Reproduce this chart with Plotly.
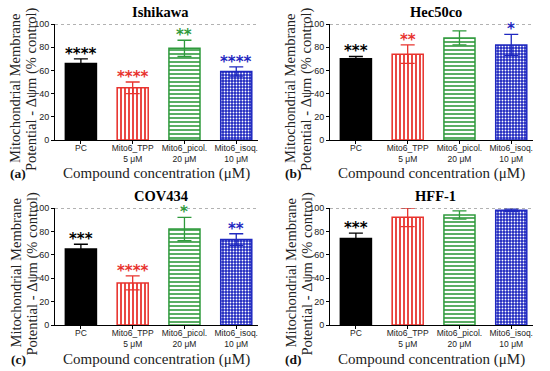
import plotly.graph_objects as go

W, H = 550, 371

categories = ["PC", "Mito6_TPP<br>5 μM", "Mito6_picol.<br>20 μM", "Mito6_isoq.<br>10 μM"]
panels = ["Ishikawa", "Hec50co", "COV434", "HFF-1"]
panel_labels = ["(a)", "(b)", "(c)", "(d)"]

ishikawa_mean = [66, 45, 79, 59]
ishikawa_err = [4, 5, 7, 4]
ishikawa_stars = ["****", "****", "**", "****"]

hec50co_mean = [70, 74, 88, 82]
hec50co_err = [2, 8, 6, 9]
hec50co_stars = ["***", "**", "", "*"]

cov434_mean = [65, 36, 82, 73]
cov434_err = [4, 6, 10, 5]
cov434_stars = ["***", "****", "*", "**"]

hff1_mean = [74, 92, 94, 98]
hff1_err = [4.5, 8, 3.5, 1]
hff1_stars = ["***", "", "", ""]

y_ticks = [0, 20, 40, 60, 80, 100]
y_title_lines = ["Mitochondrial Membrane", "Potential - Δψm (% control)"]

data = [
    (ishikawa_mean, ishikawa_err, ishikawa_stars),
    (hec50co_mean, hec50co_err, hec50co_stars),
    (cov434_mean, cov434_err, cov434_stars),
    (hff1_mean, hff1_err, hff1_stars),
]

colors = ["#000000", "#e8342f", "#2f9a3c", "#1f28c0"]
shapes_p = ["", "|", "-", "."]
fg = ["#000000", "#e8342f", "#2f9a3c", "#ffffff"]
bg = ["#000000", "#ffffff", "#ffffff", "#1f28c0"]
solid = [0.0, 0.45, 0.4, 0.3]
psize = [6, 4, 4, 3]

# pixel layout of plot areas: (left, right, top(100), bottom(0))
boxes = [(55, 258, 24, 140), (330, 533, 24, 140), (55, 258, 208, 325), (330, 533, 208, 325)]

fig = go.Figure(layout=dict(template="none"))
serif = "Liberation Serif"
sans = "Liberation Sans"
annotations = []
shapes = []


def pa(xp, yp, text, font, angle=0):
    return dict(x=xp / W, y=1 - yp / H, xref="paper", yref="paper", text=text, textangle=angle,
                showarrow=False, xanchor="center", yanchor="middle", font=font)


for p, (mean, err, stars) in enumerate(data):
    ax = "" if p == 0 else str(p + 1)
    xa, ya = "x" + ax, "y" + ax
    l, r, t, b = boxes[p]
    for i in range(4):
        fig.add_trace(go.Bar(
            x=[i], y=[mean[i]], width=0.6,
            xaxis=xa, yaxis=ya, showlegend=False,
            marker=dict(color=colors[i] if i == 0 else bg[i],
                        line=dict(color=colors[i], width=1.5),
                        pattern=dict(shape=shapes_p[i], fgcolor=fg[i], bgcolor=bg[i],
                                     solidity=solid[i], size=psize[i], fillmode="replace")),
            error_y=dict(type="data", array=[err[i]], color=colors[i], thickness=1.3, width=7),
        ))
        if stars[i]:
            annotations.append(dict(x=i, y=mean[i] + err[i], xref=xa, yref=ya, text="<b>" + stars[i] + "</b>",
                                    showarrow=False, xanchor="center", yanchor="bottom", yshift=-5,
                                    borderpad=0,
                                    font=dict(family="DejaVu Sans", size=15, color=colors[i])))
    lay = {}
    lay["xaxis" + ax] = dict(domain=[l / W, r / W], range=[-0.5, 3.42], anchor=ya, automargin=False,
                             tickmode="array", tickvals=[0, 1, 2, 3], ticktext=categories,
                             showline=True, linecolor="black", linewidth=1, ticks="outside", ticklen=3,
                             ticklabelstandoff=-3,
                             tickcolor="black", tickfont=dict(family=sans, size=8.5, color="#222"),
                             showgrid=False, zeroline=False, fixedrange=True)
    lay["yaxis" + ax] = dict(domain=[1 - b / H, 1 - t / H], range=[0, 100], anchor=xa, automargin=False,
                             tickvals=y_ticks, showline=True, linecolor="black", linewidth=1,
                             ticks="outside", ticklen=3, tickcolor="black",
                             tickfont=dict(family=sans, size=9, color="#222"),
                             showgrid=False, zeroline=False, fixedrange=True)
    fig.update_layout(**lay)
    shapes.append(dict(type="line", xref=xa + " domain", yref=ya, x0=0, x1=1, y0=100, y1=100,
                       line=dict(color="#666", width=1, dash="dot")))
    cx = (l + r) / 2
    annotations.append(pa(cx + 4, t - 12, "<b>" + panels[p] + "</b>",
                          dict(family=serif, size=14.5, color="black")))
    for k, line in enumerate(y_title_lines):
        annotations.append(pa(l - 40 + 17 * k, (t + b) / 2 + 7, line,
                              dict(family=serif, size=14.5, color="#222"), angle=-90))
    annotations.append(pa(cx, b + 34, "Compound concentration (μM)",
                          dict(family=serif, size=15, color="#222")))
    annotations.append(pa(l - 37, b + 34, "<b>" + panel_labels[p] + "</b>",
                          dict(family=serif, size=13.5, color="#111")))

fig.update_layout(width=W, height=H, margin=dict(l=0, r=0, t=0, b=0),
                  plot_bgcolor="white", paper_bgcolor="white", barmode="overlay",
                  annotations=annotations, shapes=shapes)
fig.write_html("out.html", config={"displayModeBar": False},
               post_script="document.body.style.margin='0px';document.body.style.overflow='hidden';")
